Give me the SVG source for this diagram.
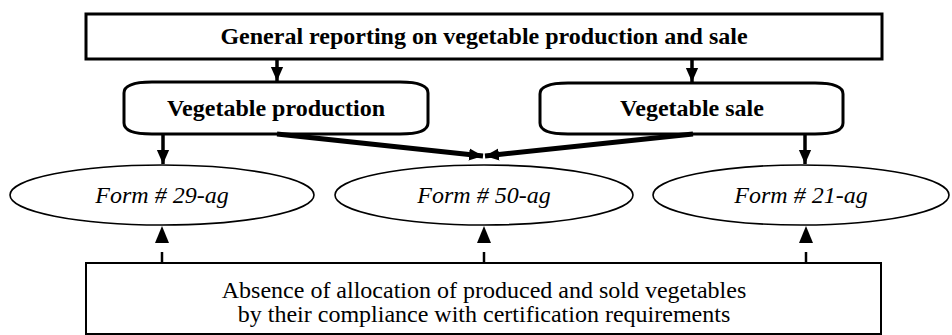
<svg xmlns="http://www.w3.org/2000/svg" width="952" height="335" viewBox="0 0 952 335" font-family="'Liberation Serif', 'Times New Roman', Times, serif">
<defs>
<style>
.box{fill:#fff;stroke:#000;stroke-width:3}
.bbox{fill:#fff;stroke:#000;stroke-width:2}
.ell{fill:#fff;stroke:#000;stroke-width:1.6}
.t{fill:#000;text-anchor:middle;font-size:24px}
.b{font-weight:bold}
.i{font-style:italic}
.c{stroke:#000;fill:none}
</style>
<marker id="ah" markerWidth="14" markerHeight="16" refX="16" refY="7" orient="auto" markerUnits="userSpaceOnUse" viewBox="0 0 16 14"><path d="M0,0 L16,7 L0,14 z" fill="#000"/></marker>
<marker id="ahd" markerWidth="17" markerHeight="14" refX="17" refY="7" orient="auto" markerUnits="userSpaceOnUse" viewBox="0 0 17 14"><path d="M0,0 L17,7 L0,14 z" fill="#000"/></marker>
</defs>
<g id="general">
<rect class="box" x="86" y="14" width="796" height="45"/>
<text class="t b" x="484" y="44" font-family="Liberation Serif">General reporting on vegetable production and sale</text>
</g>
<g id="production">
<path class="box" d="M124,93 Q124,82 152,82 L400,82 Q428,82 428,93 L428,123 Q428,134 400,134 L152,134 Q124,134 124,123 Z"/>
<text class="t b" x="276" y="116" font-family="Liberation Serif">Vegetable production</text>
</g>
<g id="sale">
<path class="box" d="M540,94 Q540,83 568,83 L815,83 Q843,83 843,94 L843,123 Q843,134 815,134 L568,134 Q540,134 540,123 Z"/>
<text class="t b" x="692" y="116" font-family="Liberation Serif">Vegetable sale</text>
</g>
<g id="form29">
<ellipse class="ell" cx="162" cy="195" rx="152" ry="30"/>
<text class="t i" x="162" y="203" font-family="Liberation Serif">Form # 29-ag</text>
</g>
<g id="form50">
<ellipse class="ell" cx="484" cy="195" rx="149" ry="30"/>
<text class="t i" x="484" y="203" font-family="Liberation Serif">Form # 50-ag</text>
</g>
<g id="form21">
<ellipse class="ell" cx="801" cy="195" rx="148" ry="30"/>
<text class="t i" x="801" y="203" font-family="Liberation Serif">Form # 21-ag</text>
</g>
<g id="absence">
<rect class="bbox" x="86" y="263" width="795" height="71"/>
<text class="t" x="484" y="298" font-family="Liberation Serif">Absence of allocation of produced and sold vegetables</text>
<text class="t" x="484" y="322" font-family="Liberation Serif">by their compliance with certification requirements</text>
</g>
<g id="connectors">
<line class="c" x1="277" y1="60" x2="277" y2="81" stroke-width="3.5" marker-end="url(#ah)"/>
<line class="c" x1="692" y1="60" x2="692" y2="82" stroke-width="3.5" marker-end="url(#ah)"/>
<line class="c" x1="163" y1="135" x2="163" y2="164" stroke-width="3.5" marker-end="url(#ah)"/>
<line class="c" x1="805" y1="135" x2="805" y2="164" stroke-width="3.5" marker-end="url(#ah)"/>
<line class="c" x1="277" y1="134" x2="483" y2="156" stroke-width="5" marker-end="url(#ah)"/>
<line class="c" x1="693" y1="134" x2="485" y2="156" stroke-width="5" marker-end="url(#ah)"/>
<line class="c" x1="162" y1="263" x2="162" y2="226" stroke-width="2.5" stroke-dasharray="11 100" marker-end="url(#ahd)"/>
<line class="c" x1="484" y1="263" x2="484" y2="226" stroke-width="2.5" stroke-dasharray="11 100" marker-end="url(#ahd)"/>
<line class="c" x1="806" y1="263" x2="806" y2="226" stroke-width="2.5" stroke-dasharray="11 100" marker-end="url(#ahd)"/>
</g>
</svg>
